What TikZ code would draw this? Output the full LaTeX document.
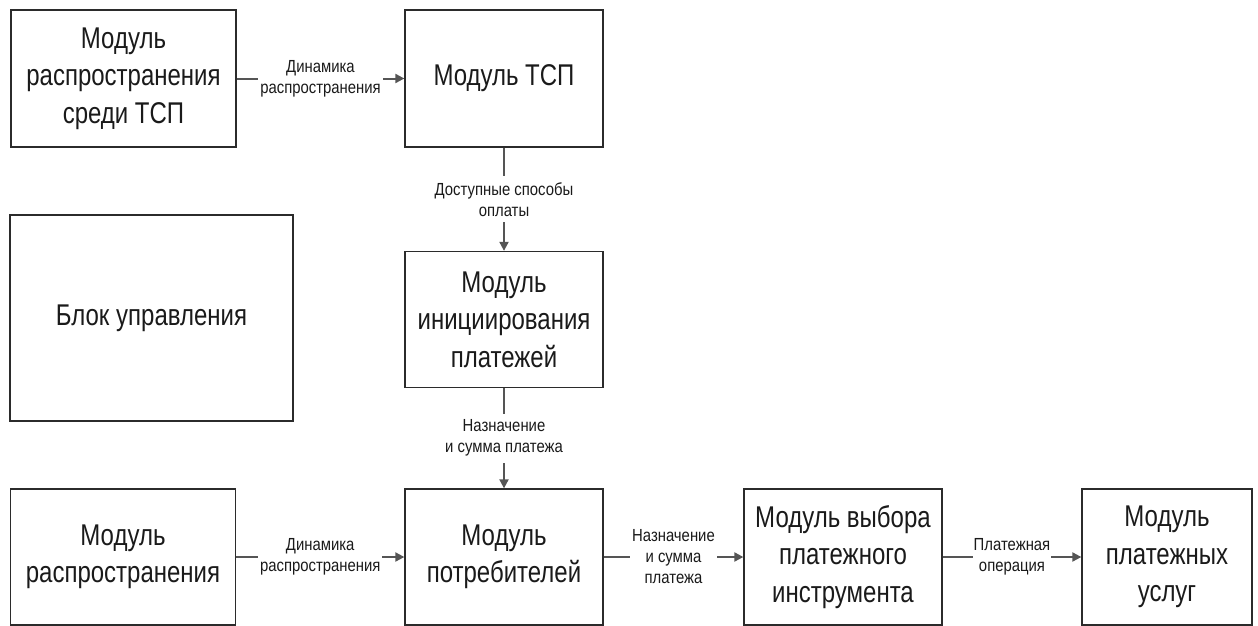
\documentclass[tikz,border=0pt]{standalone}
\usepackage{fontspec}
\setmainfont{Liberation Sans}[FakeStretch=0.85]
\newfontfamily\blockfont{Liberation Sans}[FakeStretch=0.8]
\usetikzlibrary{arrows.meta}
\definecolor{boxline}{HTML}{2B2B2B}
\definecolor{arrline}{HTML}{555555}
\definecolor{txt}{HTML}{1A1A1A}
\tikzset{
  block/.style={draw=boxline, line width=1.3pt, rectangle, inner sep=0pt,
    align=center, text=txt, font=\blockfont\fontsize{30}{37.5}\selectfont},
  flow/.style={draw=arrline, line width=2pt,
    -{Triangle[length=9pt,width=9pt]}},
  lbl/.style={fill=white, inner xsep=2pt, inner ysep=6pt, align=center,
    text=txt, font=\fontsize{17.5}{21}\selectfont}
}
\begin{document}
\begin{tikzpicture}[x=1pt, y=-1pt]
  \useasboundingbox (0,0) rectangle (1258,626);

  % top row
  \node[block, minimum width=225pt, minimum height=137pt] (spreadTSP) at (123.5,78.5)
    {Модуль\\распространения\\среди ТСП};
  \node[block, minimum width=198pt, minimum height=137pt] (tsp) at (504,78.5)
    {Модуль ТСП};

  % middle row
  \node[block, minimum width=283pt, minimum height=206pt] (ctrl) at (151.5,318)
    {Блок управления};
  \node[block, minimum width=198pt, minimum height=136pt] (init) at (504,319.5)
    {Модуль\\инициирования\\платежей};

  % bottom row
  \node[block, minimum width=225pt, minimum height=136pt] (spread) at (123,557)
    {Модуль\\распространения};
  \node[block, minimum width=198pt, minimum height=136pt] (cons) at (504,557)
    {Модуль\\потребителей};
  \node[block, minimum width=198pt, minimum height=136pt] (sel) at (843,557)
    {Модуль выбора\\платежного\\инструмента};
  \node[block, minimum width=170pt, minimum height=136pt] (pay) at (1167,557)
    {Модуль\\платежных\\услуг};

  % connectors
  \draw[flow] (spreadTSP) -- node[lbl] {Динамика\\распространения} (tsp);
  \draw[flow] (tsp) -- node[lbl] {Доступные способы\\оплаты} (init);
  \draw[flow] (init) -- node[lbl] {Назначение\\и сумма платежа} (cons);
  \draw[flow] (spread) -- node[lbl] {Динамика\\распространения} (cons);
  \draw[flow] (cons) -- node[lbl] {Назначение\\и сумма\\платежа} (sel);
  \draw[flow] (sel) -- node[lbl, inner xsep=1pt] {Платежная\\операция} (pay);
\end{tikzpicture}
\end{document}
